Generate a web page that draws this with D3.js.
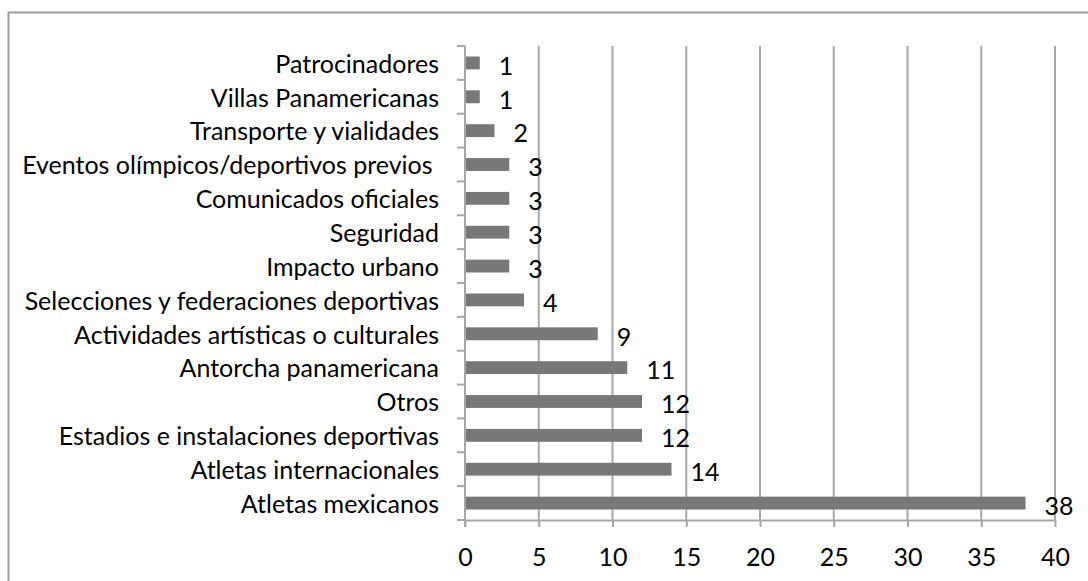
<!DOCTYPE html>
<html>
<head>
<meta charset="utf-8">
<script src="https://cdn.jsdelivr.net/npm/d3@7"></script>
<style>
  html, body { margin: 0; padding: 0; background: #fff; }
  svg { display: block; }
  text { font-family: Lato, "Noto Sans", sans-serif; fill: #000; }
</style>
</head>
<body>
<div id="chart"></div>
<script>
//categories, top to bottom
var categories = [
    'Patrocinadores',
    'Villas Panamericanas',
    'Transporte y vialidades',
    'Eventos olímpicos/deportivos previos ',
    'Comunicados oficiales',
    'Seguridad',
    'Impacto urbano',
    'Selecciones y federaciones deportivas',
    'Actividades artísticas o culturales',
    'Antorcha panamericana',
    'Otros',
    'Estadios e instalaciones deportivas',
    'Atletas internacionales',
    'Atletas mexicanos'
];

//number of notes per category
var values = [1, 1, 2, 3, 3, 3, 3, 4, 9, 11, 12, 12, 14, 38];

//x axis ticks
var xTicks = [0, 5, 10, 15, 20, 25, 30, 35, 40];

var width = 1088,
    height = 581,
    plot = { left: 465, right: 1055, top: 46, bottom: 520 },
    fontSize = 25,
    gridColor = '#a6a6a6',
    barColor = '#787878';

var svg = d3.select('#chart').append('svg')
    .attr('width', width)
    .attr('height', height);

//outer chart frame
svg.append('rect')
    .attr('x', 8.5)
    .attr('y', 12.5)
    .attr('width', width + 10)
    .attr('height', height)
    .attr('fill', '#fff')
    .attr('stroke', '#9d9d9d')
    .attr('stroke-width', 2);

var x = d3.scaleLinear().domain([0, 40]).range([plot.left, plot.right]);
var y = d3.scaleBand().domain(categories).range([plot.top, plot.bottom]).paddingInner(0.62).paddingOuter(0.31);
var yb = d3.scaleBand().domain(categories).range([plot.top, plot.bottom]);

//vertical gridlines
svg.append('g').selectAll('line')
    .data(xTicks.slice(1))
    .enter().append('line')
    .attr('x1', function (d) { return x(d); })
    .attr('x2', function (d) { return x(d); })
    .attr('y1', plot.top)
    .attr('y2', plot.bottom)
    .attr('stroke', gridColor)
    .attr('stroke-width', 2);

//x axis
var xAxis = svg.append('g')
    .attr('transform', 'translate(0,' + plot.bottom + ')')
    .call(d3.axisBottom(x).tickValues(xTicks).tickSize(7).tickPadding(21).tickSizeOuter(0));
xAxis.select('.domain').attr('stroke', gridColor).attr('stroke-width', 2);
xAxis.selectAll('.tick line').attr('stroke', gridColor).attr('stroke-width', 2);
xAxis.selectAll('.tick text').attr('font-size', fontSize).attr('font-family', 'Lato');

//y axis with ticks between categories
var yAxis = svg.append('g').attr('transform', 'translate(' + plot.left + ',0)');
yAxis.append('line')
    .attr('x1', 0).attr('x2', 0)
    .attr('y1', plot.top).attr('y2', plot.bottom + 7)
    .attr('stroke', gridColor).attr('stroke-width', 2);
yAxis.selectAll('line.tick')
    .data(categories.concat(['_end']))
    .enter().append('line')
    .attr('class', 'tick')
    .attr('x1', -8).attr('x2', 0)
    .attr('y1', function (d, i) { return i < categories.length ? yb(d) : plot.bottom; })
    .attr('y2', function (d, i) { return i < categories.length ? yb(d) : plot.bottom; })
    .attr('stroke', gridColor).attr('stroke-width', 2);
yAxis.selectAll('text')
    .data(categories)
    .enter().append('text')
    .attr('x', -26)
    .attr('y', function (d) { return yb(d) + yb.bandwidth() / 2 + 1; })
    .attr('dy', '0.35em')
    .attr('text-anchor', 'end')
    .attr('font-size', fontSize)
    .style('white-space', 'pre')
    .text(function (d) { return d; });

//bars
svg.append('g').selectAll('rect')
    .data(values)
    .enter().append('rect')
    .attr('x', x(0) + 1)
    .attr('y', function (d, i) { return y(categories[i]); })
    .attr('width', function (d) { return x(d) - x(0) - 1; })
    .attr('height', y.bandwidth())
    .attr('fill', barColor);

//value labels
svg.append('g').selectAll('text')
    .data(values)
    .enter().append('text')
    .attr('x', function (d) { return x(d) + 19; })
    .attr('y', function (d, i) { return yb(categories[i]) + yb.bandwidth() / 2 + 3; })
    .attr('dy', '0.35em')
    .attr('font-size', fontSize)
    .text(function (d) { return d; });
</script>
</body>
</html>
